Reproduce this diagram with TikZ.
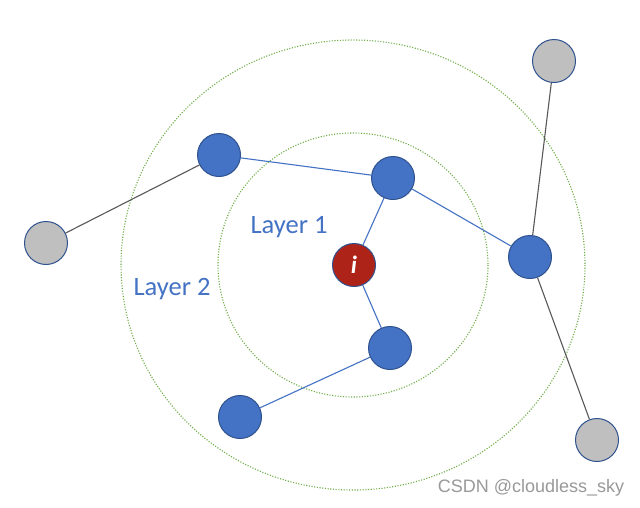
\documentclass[tikz,border=0pt]{standalone}
\usepackage{fontspec}
\setmainfont{Carlito}
\newfontfamily\wmfont{Liberation Sans}
\definecolor{nodeblue}{HTML}{4472C4}
\definecolor{edgeblue}{HTML}{2F528F}
\definecolor{nodegray}{HTML}{BFBFBF}
\definecolor{nodered}{HTML}{AE2318}
\definecolor{layergreen}{HTML}{70AD47}
\definecolor{linegray}{HTML}{595959}
\begin{document}
\begin{tikzpicture}[x=1pt,y=-1pt,
  vtx/.style={circle,minimum size=43pt,inner sep=0pt,line width=1pt,draw=edgeblue},
  bluev/.style={vtx,fill=nodeblue},
  grayv/.style={vtx,fill=nodegray},
  redv/.style={vtx,fill=nodered},
  layer/.style={draw=layergreen,line width=1.1pt,dash pattern=on 1.1pt off 1.6pt},
  bedge/.style={draw=nodeblue,line width=1.1pt},
  gedge/.style={draw=linegray,line width=1.1pt},
  lbl/.style={text=nodeblue,font=\fontsize{26.5}{30}\selectfont}]
\useasboundingbox[fill=white] (0,0) rectangle (640,507);
\draw[layer] (353,265) ellipse [x radius=232, y radius=225];
\draw[layer] (353,265) ellipse [x radius=135, y radius=132];
\node[redv] (i) at (354,265) {\textcolor{white}{\fontsize{25}{28}\selectfont\itshape\bfseries i}};
\node[bluev] (a) at (219,155) {};
\node[bluev] (b) at (393,178) {};
\node[bluev] (c) at (530,257) {};
\node[bluev] (d) at (390,348) {};
\node[bluev] (e) at (240,417) {};
\node[grayv] (g1) at (46,243) {};
\node[grayv] (g2) at (554,61) {};
\node[grayv] (g3) at (597,440) {};
\draw[bedge] (a) -- (b);
\draw[bedge] (b) -- (i);
\draw[bedge] (b) -- (c);
\draw[bedge] (i) -- (d);
\draw[bedge] (d) -- (e);
\draw[gedge] (g1) -- (a);
\draw[gedge] (g2) -- (c);
\draw[gedge] (c) -- (g3);
\node[lbl] (l1) at (289,227) {Layer 1};
\node[lbl] (l2) at (172,289) {Layer 2};
\node[text=nodegray!80!black,font=\wmfont\fontsize{18}{22}\selectfont] (wm) at (531,488) {CSDN @cloudless\_sky};
\end{tikzpicture}
\end{document}
